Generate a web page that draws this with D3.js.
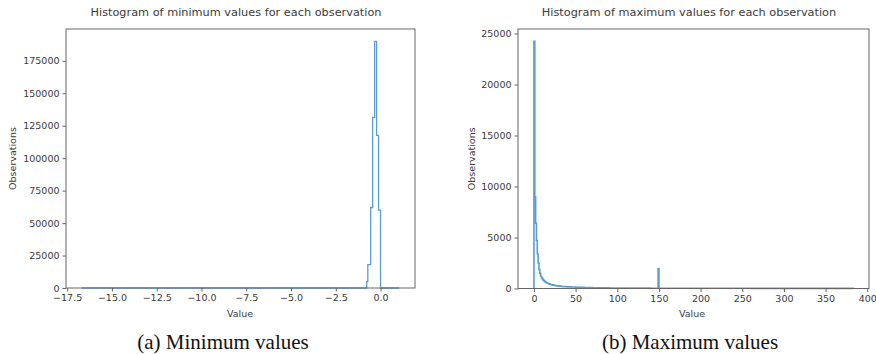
<!DOCTYPE html>
<html>
<head>
<meta charset="utf-8">
<script src="https://cdn.jsdelivr.net/npm/d3@7"></script>
<style>
  html, body { margin: 0; padding: 0; background: #fff; }
  svg { display: block; }
</style>
</head>
<body>
<svg id="fig" width="876" height="354"></svg>
<script>
// Histogram of per-observation minimum values (bin edges and counts)
const minEdges  = [-16.68, -0.77, -0.71, -0.55, -0.44, -0.33, -0.22, -0.11, 0.0, 1.04];
const minCounts = [0, 5000, 18000, 62000, 131500, 190000, 117500, 60000, 0];
const minTicksX = [-17.5, -15.0, -12.5, -10.0, -7.5, -5.0, -2.5, 0.0];
const minTicksY = [0, 25000, 50000, 75000, 100000, 125000, 150000, 175000];

// Histogram of per-observation maximum values (bin edges and counts)
const maxEdges = [0, 1, 2, 3, 4, 5, 6, 7, 8, 9, 10, 11, 12, 13, 14, 15, 16, 17, 18, 19, 20,
  21, 22, 23, 24, 25, 26, 27, 28, 29, 30, 32, 34, 36, 38, 40, 45, 50, 55, 60,
  70, 80, 90, 100, 110, 120, 130, 140, 149, 150, 160, 180, 200, 230, 260, 300, 340, 383];
const maxCounts = [24230, 9000, 6400, 4700, 3400, 2500, 1850, 1480, 1220, 1050,
  920, 820, 740, 670, 615, 565, 522, 485, 452, 422,
  396, 372, 351, 331, 313, 297, 283, 269, 257, 246,
  232, 215, 200, 188, 177, 162, 142, 122, 106,
  88, 72, 60, 52, 45, 40, 36, 33, 30, 1950,
  28, 25, 22, 20, 18, 15, 12, 10];
const maxTicksX = [0, 50, 100, 150, 200, 250, 300, 350, 400];
const maxTicksY = [0, 5000, 10000, 15000, 20000, 25000];

const panels = [
  {
    title: "Histogram of minimum values for each observation",
    caption: "(a) Minimum values",
    edges: minEdges, counts: minCounts, ticksX: minTicksX, ticksY: minTicksY,
    fmtX: d3.format(".1f"), box: { x0: 66, x1: 415, y0: 29, y1: 288 },
    titleX: 236, labelX: 240, captionX: 223, ylabelX: 12, lineW: 1.3
  },
  {
    title: "Histogram of maximum values for each observation",
    caption: "(b) Maximum values",
    edges: maxEdges, counts: maxCounts, ticksX: maxTicksX, ticksY: maxTicksY,
    fmtX: d3.format("d"), box: { x0: 518, x1: 869, y0: 29, y1: 288.5 },
    titleX: 689, labelX: 692, captionX: 690, ylabelX: 471, lineW: 1.6
  }
];

const svg = d3.select("#fig");
const ink = "#3a3a3a";
const tickFont = "DejaVu Sans, sans-serif";
const minusFix = s => s.replace("-", "\u2212");

panels.forEach(p => {
  const b = p.box;
  const lo = d3.min(p.edges), hi = d3.max(p.edges);
  const pad = (hi - lo) * 0.05;
  const x = d3.scaleLinear().domain([lo - pad, hi + pad]).range([b.x0, b.x1]);
  const y = d3.scaleLinear().domain([0, d3.max(p.counts) * 1.05]).range([b.y1, b.y0]);

  const g = svg.append("g");

  // step outline of the histogram
  const pts = [[p.edges[0], 0]];
  p.counts.forEach((c, i) => { pts.push([p.edges[i], c]); pts.push([p.edges[i + 1], c]); });
  pts.push([p.edges[p.edges.length - 1], 0]);
  g.append("path")
    .datum(pts)
    .attr("d", d3.line().x(d => x(d[0])).y(d => y(d[1])))
    .attr("fill", "none")
    .attr("stroke", "#5a9dd3")
    .attr("stroke-width", p.lineW)
    .attr("stroke-linejoin", "miter");

  // axes
  const xAxis = d3.axisBottom(x).tickValues(p.ticksX).tickSize(3.5).tickPadding(3)
    .tickFormat(d => minusFix(p.fmtX(d)));
  const yAxis = d3.axisLeft(y).tickValues(p.ticksY).tickSize(3.5).tickPadding(3)
    .tickFormat(d3.format("d"));
  const gx = g.append("g").attr("transform", `translate(0,${b.y1})`).call(xAxis);
  const gy = g.append("g").attr("transform", `translate(${b.x0},0)`).call(yAxis);
  [gx, gy].forEach(a => {
    a.select(".domain").remove();
    a.selectAll(".tick line").attr("stroke", "#555").attr("stroke-width", 0.9);
    a.selectAll(".tick text").attr("fill", ink).style("font-family", tickFont).style("font-size", "9.5px");
  });

  // frame
  g.append("rect")
    .attr("x", b.x0).attr("y", b.y0)
    .attr("width", b.x1 - b.x0).attr("height", b.y1 - b.y0)
    .attr("fill", "none").attr("stroke", "#666").attr("stroke-width", 1);

  // title
  g.append("text")
    .attr("x", p.titleX).attr("y", 15.5)
    .attr("text-anchor", "middle")
    .style("font-family", tickFont).style("font-size", "11.3px")
    .attr("fill", ink)
    .text(p.title);

  // axis labels
  g.append("text")
    .attr("x", p.labelX).attr("y", 317)
    .attr("text-anchor", "middle")
    .style("font-family", tickFont).style("font-size", "9.5px")
    .attr("fill", ink)
    .text("Value");
  g.append("text")
    .attr("transform", `translate(${p.ylabelX + 3.5},${(b.y0 + b.y1) / 2}) rotate(-90)`)
    .attr("text-anchor", "middle")
    .style("font-family", tickFont).style("font-size", "9.5px")
    .attr("fill", ink)
    .text("Observations");

  // sub-figure caption
  g.append("text")
    .attr("x", p.captionX).attr("y", 349)
    .attr("text-anchor", "middle")
    .style("font-family", "Liberation Serif, Times New Roman, serif").style("font-size", "21px")
    .attr("fill", "#111")
    .text(p.caption);
});
</script>
</body>
</html>
